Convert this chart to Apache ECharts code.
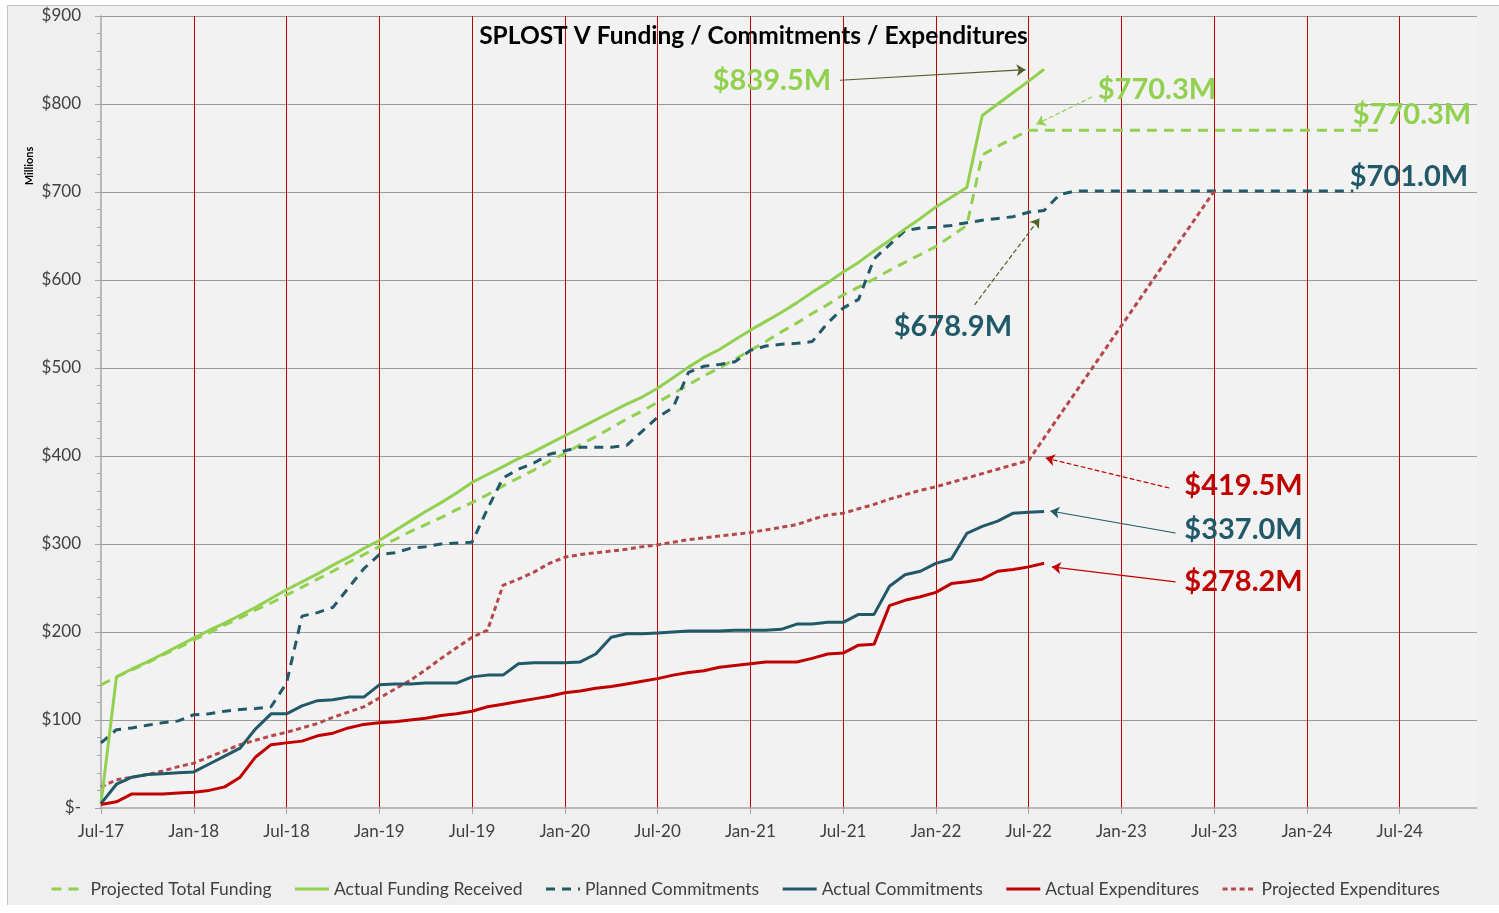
<!DOCTYPE html>
<html>

<head>
    <meta charset="utf-8">
    <script src="https://cdn.jsdelivr.net/npm/echarts@6/dist/echarts.min.js"></script>
    <title>SPLOST V Funding</title>
    <style type="text/css">
        body { margin: 0; background: #ffffff; }
        #main {
            position: absolute; left: 7px; top: 5px;
            width: 1491px; height: 899px;
            border-left: 1px solid #c4c4c4; border-top: 1px solid #c4c4c4;
            background: #efefef;
        }
    </style>
</head>

<body>
    <div id="main"></div>
    <script type="text/javascript">
        // 90 months, Jul-17 .. Dec-24 (index 0 = Jul-17); ticks every 6 months
        var tickLabels = ['Jul-17', 'Jan-18', 'Jul-18', 'Jan-19', 'Jul-19', 'Jan-20', 'Jul-20', 'Jan-21',
            'Jul-21', 'Jan-22', 'Jul-22', 'Jan-23', 'Jul-23', 'Jan-24', 'Jul-24'];
        var monthCount = 90;

        // monthly values in $ millions, null = no point that month
        var projectedFunding = [140, 149, 157, 165, 174, 182, 191, 199, 208, 216, 225, 233, 242, 251, 260, 269, 279, 288,
            297, 305, 314, 322, 330, 339, 347, 356, 366, 375, 384, 394, 403, 413, 422, 432, 442, 451, 461, 471, 481, 491,
            500, 510, 520, 530, 541, 551, 562, 572, 583, 592, 601, 611, 620, 629, 638, 650, 662, 742, 752, 761, 770.3,
            null, null, null, null, null, null, null, null, null, null, null, null, null, null, null, null, null, null,
            null, null, null, null, 770.3];
        var actualFunding = [5, 149, 158, 166, 175, 184, 193, 202, 210, 219, 228, 238, 248, 257, 266, 276, 285, 295,
            304, 315, 326, 337, 347, 358, 370, 379, 388, 397, 405, 414, 423, 432, 441, 450, 459, 467, 477, 489, 501, 512,
            521, 532, 543, 553, 563, 574, 586, 597, 609, 620, 633, 645, 658, 670, 683, 694, 705, 787, 800, 813, 826, 839.5];
        var plannedCommitments = [74, 89, 91, 94, 97, 99, 106, 107, 110, 112, 113, 115, 142, 218, 222, 228, 250, 272,
            288, 290, 295, 297, 300, 301, 302, 340, 375, 385, 392, 402, 406, 410, 410, 410, 412, 428, 444, 455, 495, 502,
            504, 507, 520, 525, 527, 528, 530, 551, 568, 578, 624, 640, 656, 659, 660, 662, 665, 668, 670, 672, 677, 679,
            697, 701, null, null, null, null, null, null, null, null, null, null, null, null, null, null, null, null,
            null, 701];
        var actualCommitments = [5, 27, 35, 38, 39, 40, 41, 50, 59, 68, 90, 107, 107, 116, 122, 123, 126, 126,
            140, 141, 141, 142, 142, 142, 149, 151, 151, 164, 165, 165, 165, 166, 175, 194, 198, 198, 199, 200, 201, 201,
            201, 202, 202, 202, 203, 209, 209, 211, 211, 220, 220, 252, 265, 269, 278, 283, 312, 320, 326, 335, 336, 337];
        var actualExpenditures = [4, 7, 16, 16, 16, 17, 18, 20, 24, 35, 58, 72, 74, 76, 82, 85, 91, 95,
            97, 98, 100, 102, 105, 107, 110, 115, 118, 121, 124, 127, 131, 133, 136, 138, 141, 144, 147, 151, 154, 156,
            160, 162, 164, 166, 166, 166, 170, 175, 176, 185, 186, 230, 236, 240, 245, 255, 257, 260, 269, 271, 274, 278.2];
        var projectedExpenditures = [24, 32, 35, 38, 42, 47, 51, 58, 65, 72, 77, 82, 86, 91, 96, 103, 109, 115,
            125, 135, 145, 157, 170, 182, 194, 202, 253, 260, 268, 278, 285, 288, 290, 292, 294, 297, 299, 302, 305, 307,
            309, 311, 313, 316, 319, 322, 328, 333, 335, 340, 345, 351, 356, 361, 365, 370, 375, 380, 385, 390, 395,
            null, null, null, null, null, null, null, null, null, null, null, 701];

        var green = '#92d050', teal = '#215968', red = '#c00000', dullRed = '#b5494a', olive = '#4f6228';
        var font = 'Lato';

        function points(arr) {
            var out = [];
            for (var i = 0; i < arr.length; i++) {
                if (arr[i] != null) out.push([i, arr[i]]);
            }
            return out;
        }

        function line(name, arr, color, type, z) {
            return {
                name: name,
                type: 'line',
                data: points(arr),
                symbol: 'none',
                z: z,
                lineStyle: { color: color, width: 3, type: type },
                itemStyle: { color: color },
                emphasis: { disabled: true }
            };
        }

        // callouts: text at [month, value], arrow from/to in the same coordinates
        var callouts = [
            { text: '$839.5M', at: [43.4, 827], color: green, from: [47.8, 827], to: [59.8, 839], lc: olive, lt: 'solid' },
            { text: '$770.3M', at: [68.3, 816], color: green, from: [64.1, 808], to: [60.5, 777], lc: green, lt: 'dashed' },
            { text: '$770.3M', at: [84.8, 787.5], color: green },
            { text: '$701.0M', at: [84.6, 718], color: teal },
            { text: '$678.9M', at: [55.1, 546.6], color: teal, from: [56.5, 571.6], to: [60.7, 670], lc: olive, lt: 'dashed' },
            { text: '$419.5M', at: [73.9, 366], color: red, from: [69.1, 363.6], to: [61.1, 397.7], lc: red, lt: 'dashed' },
            { text: '$337.0M', at: [73.9, 316], color: teal, from: [69.5, 312.5], to: [61.4, 337.5], lc: teal, lt: 'solid' },
            { text: '$278.2M', at: [73.9, 257], color: red, from: [69.5, 257], to: [61.5, 274], lc: red, lt: 'solid' }
        ];

        var markPoints = callouts.map(function (c) {
            return {
                coord: c.at, value: c.text,
                label: { show: true, position: 'inside', formatter: c.text, color: c.color }
            };
        });
        var markLines = callouts.filter(function (c) { return c.from; }).map(function (c) {
            return [
                { coord: c.from, symbol: 'none', lineStyle: { color: c.lc, type: c.lt, width: 1.2 } },
                { coord: c.to, symbol: 'arrow' }
            ];
        });

        var myChart = echarts.init(document.getElementById('main'));

        var option = {
            animation: false,
            backgroundColor: '#efefef',
            title: {
                text: 'SPLOST V Funding / Commitments / Expenditures',
                left: 'center',
                top: 13,
                textStyle: { fontFamily: font, fontSize: 24.5, fontWeight: 'bold', color: '#000' }
            },
            graphic: [{
                type: 'text', x: 21, y: 160, rotation: Math.PI / 2,
                style: { text: 'Millions', font: 'bold 11px Lato', fill: '#000', textAlign: 'center', textVerticalAlign: 'middle' }
            }],
            legend: {
                data: ['Projected Total Funding', 'Actual Funding Received', 'Planned Commitments',
                    'Actual Commitments', 'Actual Expenditures', 'Projected Expenditures'],
                top: 869,
                left: 37,
                itemWidth: 34,
                itemHeight: 14,
                itemGap: 22,
                itemStyle: { opacity: 0 },
                lineStyle: { width: 3 },
                textStyle: { fontFamily: font, fontSize: 17.5, color: '#404040' }
            },
            grid: {
                left: 93, right: 22, top: 10, bottom: 97,
                show: true, backgroundColor: '#f2f2f2', borderWidth: 0
            },
            xAxis: {
                type: 'value',
                min: 0,
                max: monthCount - 1,
                interval: 6,
                axisLine: { lineStyle: { color: '#a6a6a6', width: 1.5 } },
                axisTick: { length: 6, lineStyle: { color: '#a6a6a6' } },
                axisLabel: {
                    margin: 15,
                    showMaxLabel: false,
                    fontFamily: font, fontSize: 17, color: '#404040',
                    formatter: function (v) { return v % 6 === 0 ? tickLabels[v / 6] : ''; }
                },
                splitLine: {
                    show: true, showMinLine: false, showMaxLine: false,
                    lineStyle: { color: red, width: 1 }
                }
            },
            yAxis: {
                type: 'value',
                min: 0,
                max: 900,
                interval: 100,
                axisLine: { show: true, lineStyle: { color: '#a6a6a6', width: 1.5 } },
                axisTick: { show: true, length: 6, lineStyle: { color: '#a6a6a6' } },
                minorTick: { show: true, splitNumber: 5, length: 4, lineStyle: { color: '#a6a6a6' } },
                axisLabel: {
                    margin: 20,
                    fontFamily: font, fontSize: 17, color: '#404040',
                    formatter: function (v) { return v === 0 ? '$-' : '$' + v; }
                },
                splitLine: { showMinLine: false, lineStyle: { color: '#9a9a9a', width: 1.2 } }
            },
            series: [
                line('Projected Total Funding', projectedFunding, green, [10, 7], 3),
                line('Actual Funding Received', actualFunding, green, 'solid', 4),
                line('Planned Commitments', plannedCommitments, teal, [9, 7], 3),
                line('Actual Commitments', actualCommitments, teal, 'solid', 4),
                line('Actual Expenditures', actualExpenditures, red, 'solid', 4),
                line('Projected Expenditures', projectedExpenditures, dullRed, [5, 3.5], 3),
                {
                    name: 'callouts',
                    type: 'line',
                    data: [],
                    z: 6,
                    markPoint: {
                        symbol: 'rect',
                        symbolSize: 1,
                        silent: true,
                        itemStyle: { color: 'rgba(0,0,0,0)' },
                        label: { fontFamily: font, fontSize: 29, fontWeight: 'bold' },
                        data: markPoints
                    },
                    markLine: {
                        silent: true,
                        symbolSize: 9,
                        label: { show: false },
                        data: markLines
                    }
                }
            ]
        };

        myChart.setOption(option);
    </script>
</body>

</html>
